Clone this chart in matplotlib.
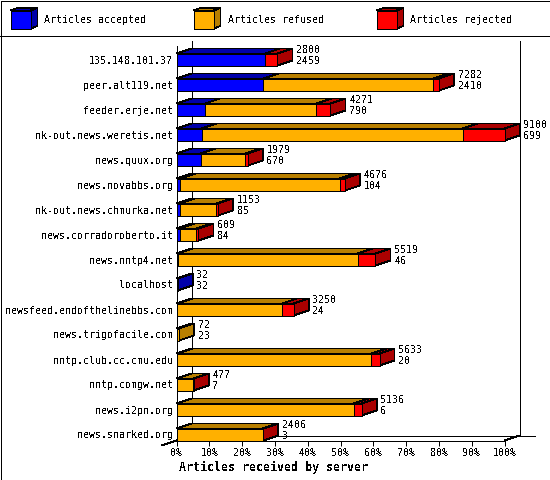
import matplotlib
matplotlib.use("Agg")
import matplotlib.pyplot as plt
from matplotlib.patches import Polygon, Rectangle
from matplotlib.lines import Line2D

servers = ["135.148.101.37", "peer.alt119.net", "feeder.erje.net", "nk-out.news.weretis.net",
           "news.quux.org", "news.novabbs.org", "nk-out.news.chmurka.net", "news.corradoroberto.it",
           "news.nntp4.net", "localhost", "newsfeed.endofthelinebbs.com", "news.trigofacile.com",
           "nntp.club.cc.cmu.edu", "nntp.comgw.net", "news.i2pn.org", "news.snarked.org"]
accepted = [2459, 2410, 790, 699, 670, 104, 85, 84, 46, 32, 24, 23, 20, 7, 6, 3]
refused = [0, 4702, 3091, 7236, 1229, 4422, 1018, 465, 4983, 0, 2901, 49, 5383, 460, 4910, 2388]
rejected = [341, 170, 390, 1165, 80, 150, 50, 60, 490, 0, 325, 0, 230, 10, 220, 15]
series_names = ["Articles accepted", "Articles refused", "Articles rejected"]
tick_values = [0, 10, 20, 30, 40, 50, 60, 70, 80, 90, 100]

FRONT = ["#0000ff", "#ffb000", "#ff0000"]
DARK = ["#0000aa", "#b87f00", "#aa0000"]

plt.rcParams.update({
    "font.family": "DejaVu Sans Mono",
    "text.antialiased": False,
    "text.hinting": "force_autohint",
    "text.hinting_factor": 8,
})
W, H = 550, 480
LW = 0.6
FS = 7.2
fig = plt.figure(figsize=(W / 100, H / 100), dpi=100, facecolor="white")


def fx(px):
    return px / W


def fy(py):
    return 1 - py / H


# Frame and legend band
fig.add_artist(Rectangle((0.5 / W, 0.5 / H), (W - 1) / W, (H - 1) / H, transform=fig.transFigure,
                         fill=False, ec="black", lw=0.72, antialiased=False))
fig.add_artist(Line2D([0, 1], [fy(35.5)] * 2, transform=fig.transFigure, color="black", lw=0.72,
                      antialiased=False))


def cube(x, y, w, h, dx, dy, front, dark):
    def add(points, color):
        fig.add_artist(Polygon([(fx(a), fy(b)) for a, b in points], closed=True,
                               transform=fig.transFigure, fc=color, ec="black", lw=LW,
                               antialiased=False))
    add([(x, y), (x + dx, y - dy), (x + w + dx, y - dy), (x + w, y)], dark)
    add([(x + w, y), (x + w + dx, y - dy), (x + w + dx, y + h - dy), (x + w, y + h)], dark)
    add([(x, y), (x + w, y), (x + w, y + h), (x, y + h)], front)


for name, sx, tx, f, d in zip(series_names, [10.5, 193.5, 376.5], [44.5, 227.5, 410.5], FRONT, DARK):
    cube(sx, 10.5, 20, 18, 7, 2.5, f, d)
    fig.text(fx(tx), fy(20), name, fontsize=FS, va="center", ha="left")

# Plot area: x runs 0-100 %, rows run top to bottom
X0, X1, Y0, Y1 = 176.5, 504.5, 440.5, 45.5
ax = fig.add_axes([fx(X0), fy(Y0), (X1 - X0) / W, (Y0 - Y1) / H], facecolor="none")
ax.set_xlim(0, 100)
n = len(servers)
ROW_PX = 25.0
ax.set_ylim(n - 1 + (Y0 - 434.5) / ROW_PX, -(59.5 - Y1) / ROW_PX)
DX = 15 / ((X1 - X0) / 100)
DY = 5 / ROW_PX
BAR_H = 12 / ROW_PX

totals = [a + b + c for a, b, c in zip(accepted, refused, rejected)]
scale = 100 / max(totals)

# Back wall and floor lines
wall = dict(color="black", lw=LW, antialiased=False, clip_on=False, zorder=1,
            solid_capstyle="butt")
y_floor, y_top = ax.get_ylim()
ax.plot([DX, DX], [y_floor - DY, y_top - DY], **wall)
ax.plot([100 + DX, 100 + DX], [y_floor - DY, y_top - DY], **wall)
ax.plot([DX, 100 + DX + DX], [y_floor - DY] * 2, **wall)
ax.plot([-DX, DX], [y_floor + DY, y_floor - DY], **wall)
ax.plot([100, 100 + DX], [y_floor, y_floor - DY], **wall)

# Bars
edge = dict(edgecolor="black", linewidth=LW, antialiased=False, clip_on=False)
for row in range(n):
    y = row
    top_y, bot_y = y - BAR_H / 2, y + BAR_H / 2
    left = 0.0
    last_dark = None
    end = totals[row] * scale
    z = 3 + row
    for k, vals in enumerate([accepted, refused, rejected]):
        v = vals[row] * scale
        if v <= 0:
            continue
        ax.add_patch(Polygon([(left, top_y), (left + DX, top_y - DY),
                              (left + v + DX, top_y - DY), (left + v, top_y)],
                             closed=True, facecolor=DARK[k], zorder=z, **edge))
        ax.barh(y, v, left=left, height=BAR_H, color=FRONT[k], zorder=z + 0.2, **edge)
        left += v
        last_dark = DARK[k]
    ax.add_patch(Polygon([(end, top_y), (end + DX, top_y - DY),
                          (end + DX, bot_y - DY), (end, bot_y)],
                         closed=True, facecolor=last_dark, zorder=z + 0.1, **edge))
    px = (end + DX, y)
    ax.annotate(str(totals[row]), xy=px, xytext=(4, 9.5), textcoords="offset pixels",
                fontsize=FS, va="center", ha="left", annotation_clip=False, zorder=50)
    ax.annotate(str(accepted[row]), xy=px, xytext=(4, -1.5), textcoords="offset pixels",
                fontsize=FS, va="center", ha="left", annotation_clip=False, zorder=50)

# Axes
for side in ["top", "right"]:
    ax.spines[side].set_visible(False)
for side in ["left", "bottom"]:
    ax.spines[side].set_linewidth(0.72)
    ax.spines[side].set_antialiased(False)
ax.set_yticks(range(n))
ax.set_yticklabels(servers, fontsize=FS)
ax.set_xticks(tick_values)
ax.set_xticklabels([f"{t}%" for t in tick_values], fontsize=FS)
ax.tick_params(axis="y", length=0, pad=2.5)
ax.tick_params(axis="x", length=3.6, width=0.72, pad=2)
ax.set_xlabel("Articles received by server", fontsize=8.4, fontweight="bold", va="center")
ax.xaxis.set_label_coords((273.5 - X0) / (X1 - X0), -(467 - Y0) / (Y0 - Y1))

fig.savefig("out.png", dpi=100, facecolor="white")
